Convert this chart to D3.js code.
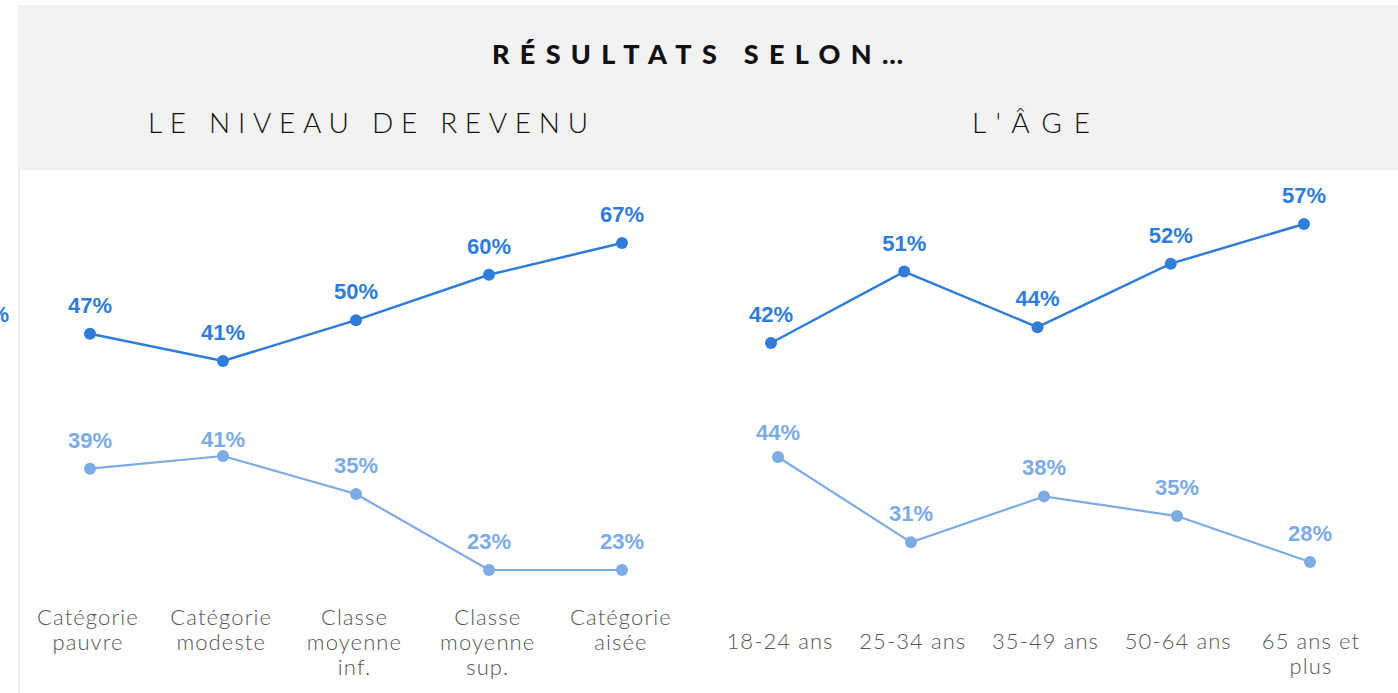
<!DOCTYPE html>
<html>
<head>
<meta charset="utf-8">
<script src="https://cdn.jsdelivr.net/npm/d3@7"></script>
<style>
  body { margin: 0; background: #fff; }
  svg { display: block; }
</style>
</head>
<body>
<div id="chart"></div>
<script>
// Data
var incomeCats = ["Catégorie\npauvre", "Catégorie\nmodeste", "Classe\nmoyenne\ninf.", "Classe\nmoyenne\nsup.", "Catégorie\naisée"];
var incomeTop = [47, 41, 50, 60, 67];
var incomeBottom = [39, 41, 35, 23, 23];

var ageCats = ["18-24 ans", "25-34 ans", "35-49 ans", "50-64 ans", "65 ans et\nplus"];
var ageTop = [42, 51, 44, 52, 57];
var ageBottom = [44, 31, 38, 35, 28];

var width = 1398, height = 693;
var darkBlue = "#2f7dd8", lightBlue = "#7cabe6";

var svg = d3.select("#chart").append("svg")
  .attr("width", width)
  .attr("height", height);

// header band
svg.append("rect")
  .attr("x", 18).attr("y", 5)
  .attr("width", width - 18).attr("height", 165)
  .attr("fill", "#f2f2f2");

svg.append("line")
  .attr("x1", 19).attr("x2", 19)
  .attr("y1", 170).attr("y2", height)
  .attr("stroke", "#ececec")
  .attr("stroke-width", 2);

svg.append("text")
  .attr("x", 492).attr("y", 64)
  .attr("textLength", 411)
  .attr("lengthAdjust", "spacing")
  .style("font-family", "Lato, sans-serif")
  .style("font-weight", 900)
  .style("font-size", "27px")
  .attr("fill", "#111")
  .text("RÉSULTATS SELON…");

svg.append("text")
  .attr("x", 148).attr("y", 133)
  .attr("textLength", 440)
  .attr("lengthAdjust", "spacing")
  .style("font-family", "Lato, sans-serif")
  .style("font-weight", 300)
  .style("font-size", "28px")
  .attr("fill", "#111")
  .text("LE NIVEAU DE REVENU");

svg.append("text")
  .attr("x", 972).attr("y", 133)
  .attr("textLength", 118)
  .attr("lengthAdjust", "spacing")
  .style("font-family", "Lato, sans-serif")
  .style("font-weight", 300)
  .style("font-size", "28px")
  .attr("fill", "#111")
  .text("L'ÂGE");

// clipped label from a panel off to the left
svg.append("text")
  .attr("x", 9).attr("y", 322)
  .attr("text-anchor", "end")
  .style("font-family", "Liberation Sans, Arial, sans-serif")
  .style("font-weight", "bold")
  .style("font-size", "22px")
  .attr("fill", darkBlue)
  .text("47%");

function drawSeries(cats, values, x, y, color, r, lw, labelShift) {
  labelShift = labelShift || {};
  var line = d3.line()
    .x((d, i) => x(cats[i]))
    .y((d) => y(d));

  svg.append("path")
    .datum(values)
    .attr("d", line)
    .attr("fill", "none")
    .attr("stroke", color)
    .attr("stroke-width", lw);

  svg.selectAll(null)
    .data(values)
    .enter()
    .append("circle")
    .attr("cx", (d, i) => x(cats[i]))
    .attr("cy", (d) => y(d))
    .attr("r", r)
    .attr("fill", color);

  svg.selectAll(null)
    .data(values)
    .enter()
    .append("text")
    .attr("x", (d, i) => x(cats[i]))
    .attr("y", (d, i) => y(d) - 21 + (labelShift[i] || 0))
    .attr("text-anchor", "middle")
    .style("font-family", "Liberation Sans, Arial, sans-serif")
    .style("font-weight", "bold")
    .style("font-size", "22px")
    .attr("fill", color)
    .text((d) => d + "%");
}

function drawCategories(cats, x, top) {
  cats.forEach(function (c) {
    var t = svg.append("text")
      .attr("text-anchor", "middle")
      .style("font-family", "Lato, sans-serif")
      .style("font-weight", 300)
      .style("font-size", "22px")
      .style("letter-spacing", "1.1px")
      .attr("fill", "#555");
    c.split("\n").forEach(function (part, j) {
      t.append("tspan")
        .attr("x", x(c))
        .attr("y", top + j * 25)
        .text(part);
    });
  });
}

// Income panel
var xIncome = d3.scalePoint().domain(incomeCats).range([90, 622]);
var yIncTop = d3.scaleLinear().domain([41, 67]).range([361, 243]);
var yIncBot = d3.scaleLinear().domain([23, 41]).range([570, 456]);
drawSeries(incomeCats, incomeTop, xIncome, yIncTop, darkBlue, 6, 2.5);
drawSeries(incomeCats, incomeBottom, xIncome, yIncBot, lightBlue, 6, 2.2, { 1: 12 });
var xIncLabel = d3.scalePoint().domain(incomeCats).range([88, 621]);
drawCategories(incomeCats, xIncLabel, 625);

// Age panel
var xAgeTop = d3.scalePoint().domain(ageCats).range([771, 1304]);
var xAgeBot = d3.scalePoint().domain(ageCats).range([778, 1310]);
var yAgeTop = d3.scaleLinear().domain([42, 57]).range([343, 224]);
var yAgeBot = d3.scaleLinear().domain([28, 44]).range([562, 457]);
drawSeries(ageCats, ageTop, xAgeTop, yAgeTop, darkBlue, 6, 2.5);
drawSeries(ageCats, ageBottom, xAgeBot, yAgeBot, lightBlue, 6, 2.2, { 0: 4 });
var xAgeLabel = d3.scalePoint().domain(ageCats).range([780, 1311]);
drawCategories(ageCats, xAgeLabel, 649);
</script>
</body>
</html>
